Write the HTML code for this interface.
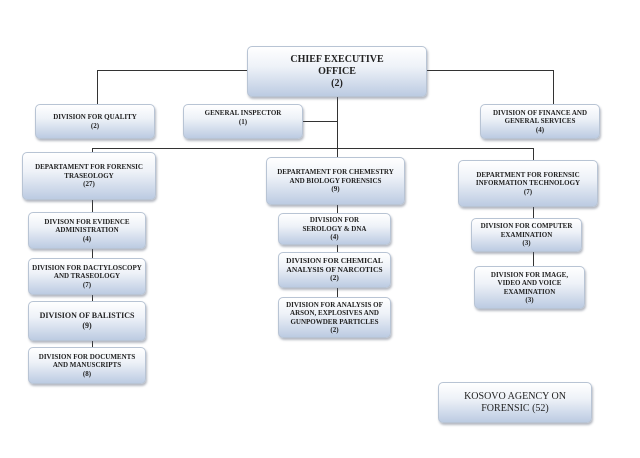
<!DOCTYPE html>
<html><head><style>
body{margin:0;width:640px;height:458px;background:#fff;position:relative;overflow:hidden;font-family:"Liberation Serif",serif;}
.b{position:absolute;box-sizing:border-box;border:1px solid #b8c4d4;border-radius:5px;background:linear-gradient(#ffffff 0%,#eef2f8 40%,#bccbe2 100%);box-shadow:1px 2px 2px rgba(90,100,120,.45);display:flex;flex-direction:column;align-items:center;justify-content:center;text-align:center;font-weight:bold;font-size:7px;line-height:8.5px;color:#222;}
.l{position:absolute;background:#333;}
</style></head><body>
<div class="l" style="left:97px;top:70px;width:456px;height:1px"></div>
<div class="l" style="left:97px;top:70px;width:1px;height:34px"></div>
<div class="l" style="left:553px;top:70px;width:1px;height:34px"></div>
<div class="l" style="left:337px;top:97px;width:1px;height:62px"></div>
<div class="l" style="left:303px;top:121px;width:34px;height:1px"></div>
<div class="l" style="left:92px;top:148px;width:441px;height:1px"></div>
<div class="l" style="left:92px;top:148px;width:1px;height:200px"></div>
<div class="l" style="left:533px;top:148px;width:1px;height:120px"></div>
<div class="l" style="left:337px;top:200px;width:1px;height:98px"></div>

<div class="b" style="left:247px;top:46px;width:180px;height:51px;font-size:10px;line-height:12px">CHIEF EXECUTIVE<br>OFFICE<br>(2)</div>
<div class="b" style="left:35px;top:104px;width:120px;height:35px">DIVISION FOR QUALITY<br>(2)</div>
<div class="b" style="left:183px;top:104px;width:120px;height:35px;justify-content:flex-start;padding-top:4px">GENERAL INSPECTOR<br>(1)</div>
<div class="b" style="left:480px;top:104px;width:120px;height:35px">DIVISION OF FINANCE AND<br>GENERAL SERVICES<br>(4)</div>

<div class="b" style="left:22px;top:152px;width:134px;height:48px">DEPARTAMENT FOR FORENSIC<br>TRASEOLOGY<br>(27)</div>
<div class="b" style="left:266px;top:157px;width:139px;height:48px">DEPARTAMENT FOR CHEMESTRY<br>AND BIOLOGY FORENSICS<br>(9)</div>
<div class="b" style="left:458px;top:160px;width:140px;height:47px">DEPARTMENT FOR FORENSIC<br>INFORMATION TECHNOLOGY<br>(7)</div>

<div class="b" style="left:28px;top:212px;width:118px;height:37px">DIVISON FOR EVIDENCE<br>ADMINISTRATION<br>(4)</div>
<div class="b" style="left:28px;top:258px;width:118px;height:37px">DIVISION FOR DACTYLOSCOPY<br>AND TRASEOLOGY<br>(7)</div>
<div class="b" style="left:28px;top:301px;width:118px;height:40px;font-size:8px;line-height:10px">DIVISION OF BALISTICS<br>(9)</div>
<div class="b" style="left:28px;top:347px;width:118px;height:37px">DIVISION FOR DOCUMENTS<br>AND MANUSCRIPTS<br>(8)</div>

<div class="b" style="left:278px;top:213px;width:113px;height:32px">DIVISION FOR<br>SEROLOGY &amp; DNA<br>(4)</div>
<div class="b" style="left:278px;top:252px;width:113px;height:36px;font-size:7.5px">DIVISION FOR CHEMICAL<br>ANALYSIS OF NARCOTICS<br>(2)</div>
<div class="b" style="left:278px;top:297px;width:113px;height:41px">DIVISION FOR ANALYSIS OF<br>ARSON, EXPLOSIVES AND<br>GUNPOWDER PARTICLES<br>(2)</div>

<div class="b" style="left:471px;top:218px;width:111px;height:34px">DIVISION FOR COMPUTER<br>EXAMINATION<br>(3)</div>
<div class="b" style="left:474px;top:266px;width:111px;height:43px">DIVISION FOR IMAGE,<br>VIDEO AND VOICE<br>EXAMINATION<br>(3)</div>

<div class="b" style="left:438px;top:382px;width:154px;height:41px;font-weight:normal;font-size:10px;line-height:12px">KOSOVO AGENCY ON<br>FORENSIC (52)</div>
</body></html>
